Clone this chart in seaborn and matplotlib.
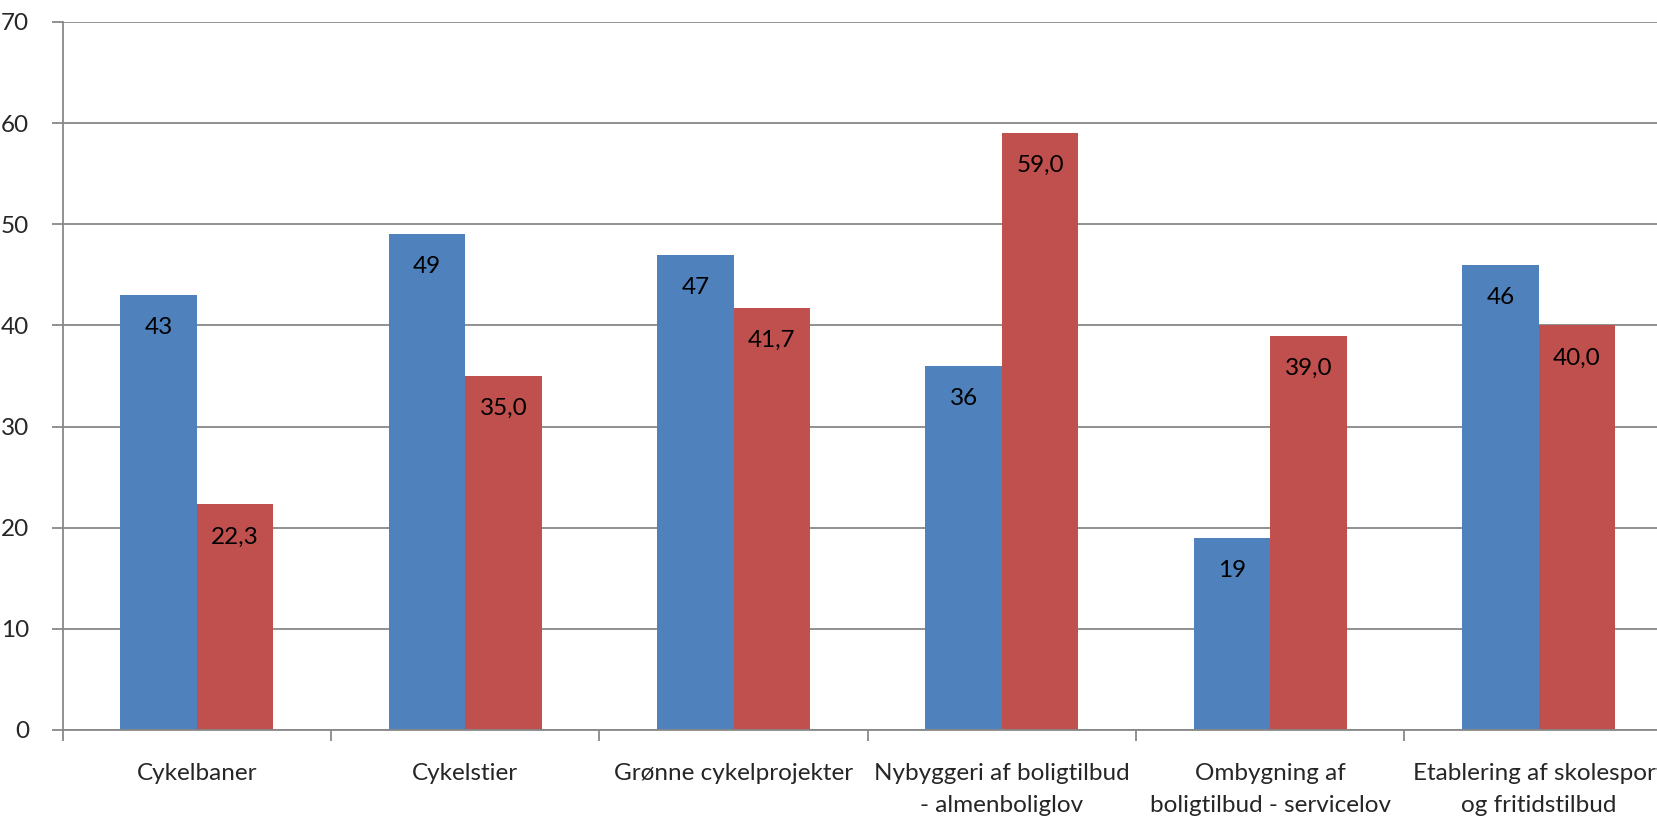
import matplotlib
matplotlib.use("Agg")
import matplotlib.pyplot as plt
import seaborn as sns
import pandas as pd
from matplotlib.ticker import FixedLocator

categories = ["Cykelbaner", "Cykelstier", "Grønne cykelprojekter",
              "Nybyggeri af boligtilbud\n- almenboliglov",
              "Ombygning af\nboligtilbud - servicelov",
              "Etablering af skolesport\nog fritidstilbud"]
series_a = [43, 49, 47, 36, 19, 46]
series_b = [22.3, 35.0, 41.7, 59.0, 39.0, 40.0]
labels_a = ["43", "49", "47", "36", "19", "46"]
labels_b = ["22,3", "35,0", "41,7", "59,0", "39,0", "40,0"]
yticks = [0, 10, 20, 30, 40, 50, 60, 70]

sns.set_theme(style="white")
plt.rcParams['font.family'] = ['Lato', 'DejaVu Sans']

df = pd.DataFrame({
    "cat": categories * 2,
    "val": series_a + series_b,
    "serie": ["A"] * len(categories) + ["B"] * len(categories),
})

fig = plt.figure(figsize=(16.58, 8.18), dpi=100)
ax = fig.add_axes([62.7 / 1658, 88 / 818, 1610 / 1658, 708 / 818])
sns.barplot(data=df, x="cat", y="val", hue="serie", order=categories,
            palette=["#4F81BD", "#C0504D"], width=0.57, gap=0,
            dodge=True, ax=ax, legend=False, linewidth=0, saturation=1)

ax.bar_label(ax.containers[0], labels=labels_a, padding=-31, fontsize=17.5, color="black")
ax.bar_label(ax.containers[1], labels=labels_b, padding=-31, fontsize=17.5, color="black")

ax.set_xlim(-0.5, 5.5)
ax.set_ylim(0, 70)
ax.set_yticks(yticks)
ax.set_yticklabels([str(t) for t in yticks], fontsize=17.5)
ax.set_xticks(range(len(categories)))
ax.set_xticklabels(categories, fontsize=17.5, linespacing=1.6)
ax.yaxis.grid(True, color="#888888", linewidth=1.3)
ax.set_axisbelow(True)
ax.set_xlabel("")
ax.set_ylabel("")
for s in ["top", "right"]:
    ax.spines[s].set_visible(False)
for s in ["left", "bottom"]:
    ax.spines[s].set_color("#888888")
    ax.spines[s].set_linewidth(1.3)

ax.tick_params(axis="y", which="major", left=True, length=8, width=1.3, color="#888888", pad=16)
ax.tick_params(axis="x", which="major", bottom=False, pad=18)
ax.xaxis.set_minor_locator(FixedLocator([-0.5 + i for i in range(7)]))
ax.tick_params(axis="x", which="minor", bottom=True, length=8, width=1.3, color="#888888")

fig.savefig("out.png", dpi=100)
